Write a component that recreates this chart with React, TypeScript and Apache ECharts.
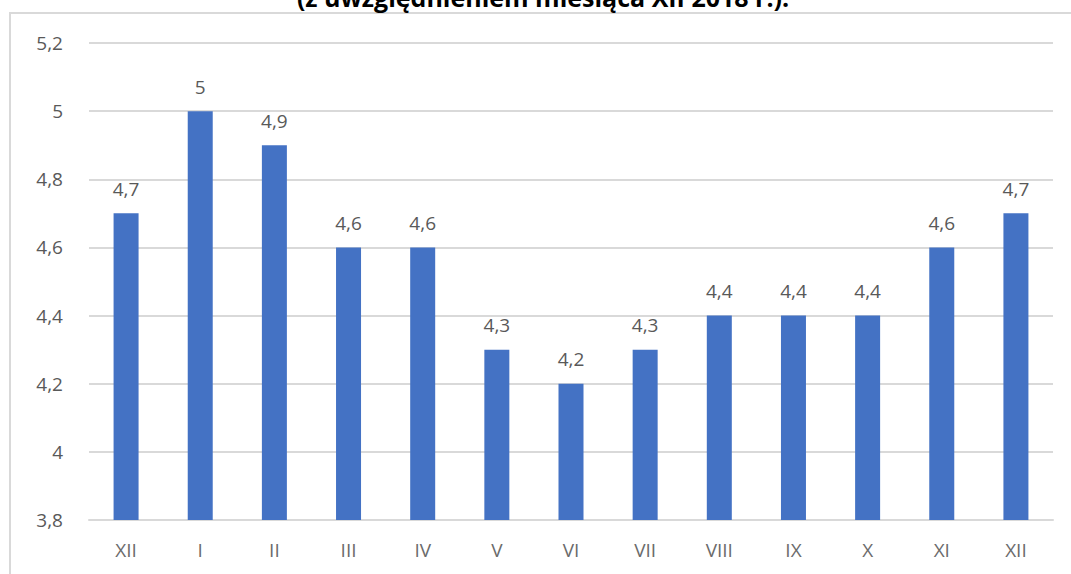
import React, { useEffect, useRef } from "react";
import * as echarts from "echarts";

const categories = ["XII", "I", "II", "III", "IV", "V", "VI", "VII", "VIII", "IX", "X", "XI", "XII"];
const values = [4.7, 5.0, 4.9, 4.6, 4.6, 4.3, 4.2, 4.3, 4.4, 4.4, 4.4, 4.6, 4.7];
const titleText = "(z uwzględnieniem miesiąca XII 2018 r.).";

const fmt = (v: number) => String(Number(v.toFixed(1))).replace(".", ",");

export default function App() {
  const ref = useRef<HTMLDivElement>(null);
  useEffect(() => {
    document.body.style.margin = "0";
    const chart = echarts.init(ref.current!, null, { renderer: "svg" });
    chart.setOption({
      animation: false,
      backgroundColor: "#ffffff",
      textStyle: { fontFamily: "Open Sans" },
      graphic: [
        {
          type: "rect",
          shape: { x: 10, y: 13, width: 1100, height: 620 },
          style: { fill: "none", stroke: "#d9d9d9", lineWidth: 2 },
          z: -1,
        },
        {
          type: "text",
          x: 543,
          y: 9,
          style: {
            text: titleText,
            fill: "#000000",
            font: "bold 25px 'Open Sans'",
            textAlign: "center",
            textVerticalAlign: "bottom",
          },
        },
      ],
      grid: { left: 89, right: 18, top: 43, bottom: 54 },
      xAxis: {
        type: "category",
        data: categories,
        axisLine: { lineStyle: { color: "#d9d9d9", width: 2 } },
        axisTick: { show: false },
        axisLabel: { color: "#6b6b6b", fontSize: 19, margin: 20 },
      },
      yAxis: {
        type: "value",
        min: 3.8,
        max: 5.2,
        interval: 0.2,
        axisLine: { show: false },
        axisTick: { show: false },
        splitLine: { lineStyle: { color: "#d9d9d9", width: 2 } },
        axisLabel: { color: "#595959", fontSize: 19, margin: 26, formatter: (v: number) => fmt(v) },
      },
      series: [
        {
          type: "bar",
          data: values,
          barWidth: 25,
          itemStyle: { color: "#4472c4" },
          label: {
            show: true,
            position: "top",
            distance: 15,
            color: "#595959",
            fontSize: 19,
            formatter: (p: any) => fmt(p.value),
          },
        },
      ],
    });
    return () => chart.dispose();
  }, []);
  return <div ref={ref} style={{ width: 1071, height: 574 }} />;
}
